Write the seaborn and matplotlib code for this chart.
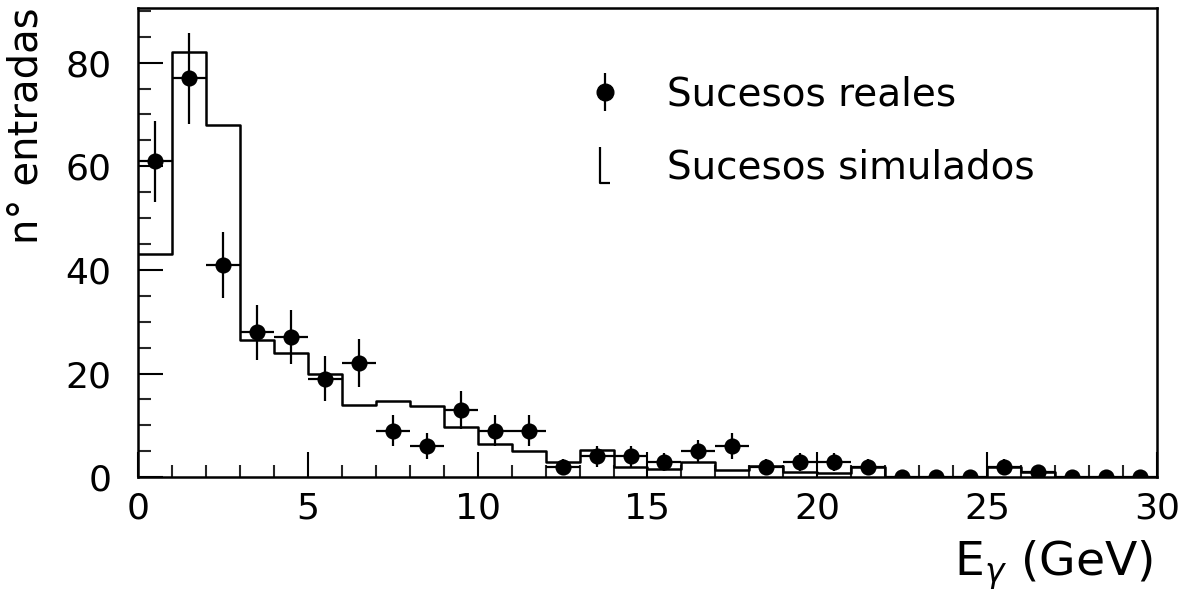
import numpy as np
import pandas as pd
import matplotlib
matplotlib.use("Agg")
import matplotlib.pyplot as plt
import seaborn as sns
from matplotlib.lines import Line2D
from matplotlib.path import Path

# ---- data ----
bin_edges = list(range(0, 31))
bin_centers = [i + 0.5 for i in range(30)]
simulados = [43, 82, 68, 26.5, 24, 20, 14, 14.7, 13.7, 9.6,
             6.5, 5, 3, 5.2, 2, 1.5, 3, 1.4, 2.1, 1,
             0.8, 2, 0.1, 0.1, 0.1, 2, 1, 0.1, 0.1, 0.1]
reales = [61, 77, 41, 28, 27, 19, 22, 9, 6, 13,
          9, 9, 2, 4, 4, 3, 5, 6, 2, 3,
          3, 2, 0, 0, 0, 2, 1, 0, 0, 0]
y_ticks = [0, 20, 40, 60, 80]
x_ticks = [0, 5, 10, 15, 20, 25, 30]

sns.set_style("ticks")
plt.rcParams['font.family'] = ['DejaVu Sans']
plt.rcParams['text.color'] = 'black'
plt.rcParams['axes.labelcolor'] = 'black'

fig = plt.figure(figsize=(11.82, 5.95), dpi=100)
ax = fig.add_axes([0.1168, 0.198, 0.862, 0.789])

df_sim = pd.DataFrame({"E": bin_centers, "w": simulados})
sns.histplot(data=df_sim, x="E", weights="w", bins=bin_edges, element="step",
             fill=False, color="black", linewidth=1.8, ax=ax)

df_real = pd.DataFrame({"E": bin_centers, "N": reales})
err = np.sqrt(np.array(reales, dtype=float))
ax.errorbar(df_real["E"], df_real["N"], yerr=err, xerr=0.5, fmt="none",
            ecolor="black", elinewidth=1.6, capsize=0)
sns.scatterplot(data=df_real, x="E", y="N", color="black", s=135,
                edgecolor="black", linewidth=0, ax=ax, zorder=5)

ax.set_xlim(0, 30)
ax.set_ylim(0, 90.6)
ax.set_xticks(x_ticks)
ax.set_yticks(y_ticks)
ax.set_xticks(range(0, 31), minor=True)
ax.set_yticks(range(0, 91, 5), minor=True)
ax.tick_params(axis="both", which="major", direction="in", length=18, width=1.5,
               labelsize=26, colors="black", top=False, right=False)
ax.tick_params(axis="x", which="major", pad=10)
ax.tick_params(axis="y", which="major", pad=19)
ax.tick_params(axis="both", which="minor", direction="in", length=9, width=1.5,
               top=False, right=False)
for s in ax.spines.values():
    s.set_linewidth(1.8)
    s.set_color("black")

ax.set_xlabel("")
ax.set_ylabel("n° entradas", fontsize=29, loc="top", labelpad=14)
fig.text(0.975, 0.05, r"E$_{\gamma}$ (GeV)", fontsize=34, ha="right", va="center")

bracket = Path([(-0.3, 1.0), (-0.3, -1.0), (0.3, -1.0)],
               [Path.MOVETO, Path.LINETO, Path.LINETO])
h1 = ax.errorbar([], [], yerr=[], fmt="o", color="black", ms=12, elinewidth=1.6)
h2 = Line2D([], [], linestyle="none", marker=bracket, markersize=26,
            markerfacecolor="none", markeredgecolor="black", markeredgewidth=1.6)
leg = ax.legend([h1, h2], ["Sucesos reales", "Sucesos simulados"], loc="upper left",
                bbox_to_anchor=(0.405, 0.93), frameon=False, fontsize=28,
                handlelength=1.0, handletextpad=1.1, labelspacing=0.9)
for t in leg.get_texts():
    t.set_color("black")

fig.savefig("out.png", dpi=100)
